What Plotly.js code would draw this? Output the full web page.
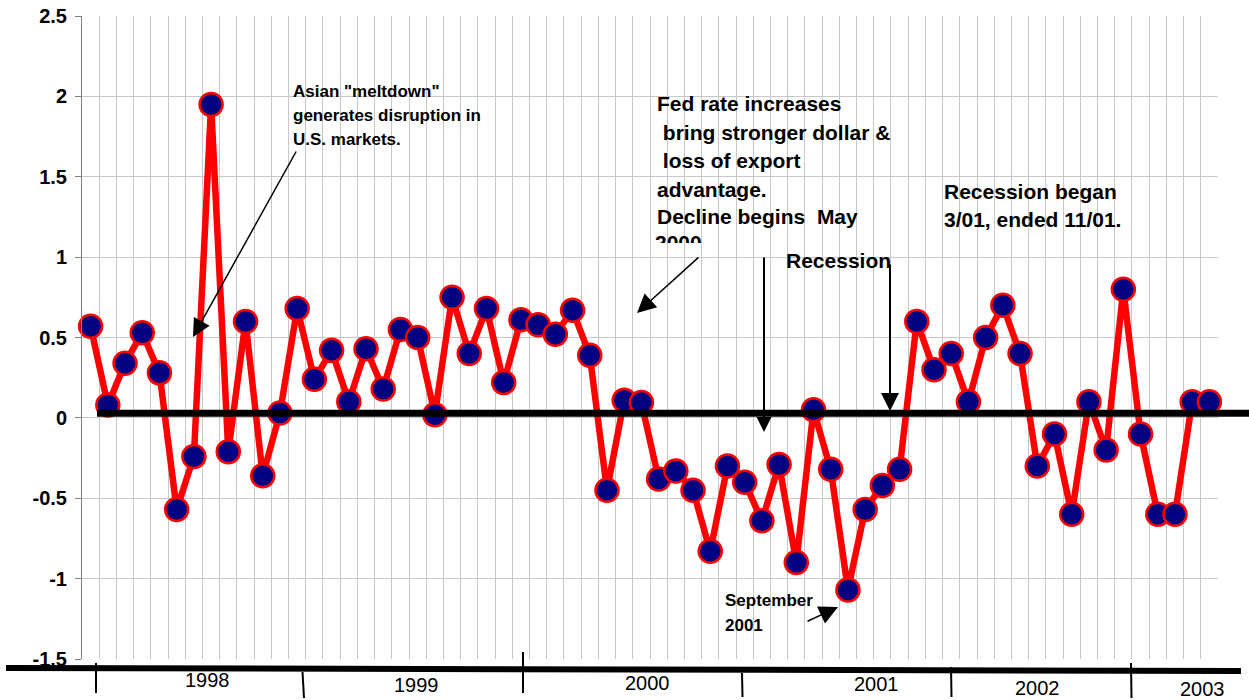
<!DOCTYPE html>
<html><head><meta charset="utf-8">
<script src="https://cdn.plot.ly/plotly-3.0.1.min.js"></script>
<style>html,body{margin:0;padding:0;background:#fff}#chart{width:1249px;height:700px}</style>
</head><body><div id="chart"></div><script>
// ---- data ----
const months = [
 '1998-01','1998-02','1998-03','1998-04','1998-05','1998-06','1998-07','1998-08','1998-09','1998-10','1998-11','1998-12',
 '1999-01','1999-02','1999-03','1999-04','1999-05','1999-06','1999-07','1999-08','1999-09','1999-10','1999-11','1999-12',
 '2000-01','2000-02','2000-03','2000-04','2000-05','2000-06','2000-07','2000-08','2000-09','2000-10','2000-11','2000-12',
 '2001-01','2001-02','2001-03','2001-04','2001-05','2001-06','2001-07','2001-08','2001-09','2001-10','2001-11','2001-12',
 '2002-01','2002-02','2002-03','2002-04','2002-05','2002-06','2002-07','2002-08','2002-09','2002-10','2002-11','2002-12',
 '2003-01','2003-02','2003-03','2003-04','2003-05','2003-06'];
const values = [
 0.57, 0.08, 0.34, 0.53, 0.28, -0.57, -0.24, 1.95, -0.21, 0.60, -0.36, 0.03,
 0.68, 0.24, 0.42, 0.10, 0.43, 0.18, 0.55, 0.50, 0.02, 0.75, 0.40, 0.68,
 0.22, 0.61, 0.58, 0.52, 0.67, 0.39, -0.45, 0.11, 0.095, -0.38, -0.33, -0.45,
 -0.83, -0.30, -0.40, -0.64, -0.29, -0.90, 0.05, -0.32, -1.07, -0.57, -0.42, -0.32,
 0.60, 0.30, 0.40, 0.10, 0.50, 0.70, 0.40, -0.30, -0.10, -0.60, 0.10, -0.20,
 0.80, -0.10, -0.60, -0.60, 0.10, 0.10];
const yTickVals = [2.5, 2, 1.5, 1, 0.5, 0, -0.5, -1, -1.5];
const yTickText = ['2.5', '2', '1.5', '1', '0.5', '0', '-0.5', '-1', '-1.5'];
const yearLabels = ['1998', '1999', '2000', '2001', '2002', '2003'];
const asianLines = ['Asian "meltdown"', 'generates disruption in', 'U.S. markets.'];
const fedLines = ['Fed rate increases', '\u00a0bring stronger dollar &', '\u00a0loss of export', 'advantage.', 'Decline begins \u00a0May'];
const fedLastLine = '2000';
const recessionLabel = 'Recession';
const recessionNote = ['Recession began', '3/01, ended 11/01.'];
const septLines = ['September', '2001'];

// ---- layout helpers (pixel -> paper) ----
const W = 1249, H = 700, L = 82, R = 1218, T = 16, B = 659;
const px = x => (x - L) / (R - L);
const py = y => (B - y) / (B - T);
const FONT = 'Arial, "Liberation Sans", Helvetica, sans-serif';

const annotations = [];
function textLines(lines, left, centers, size, bold, anchor) {
  lines.forEach((t, i) => annotations.push({
    xref: 'paper', yref: 'paper', x: px(left), y: py(centers[i]),
    xanchor: anchor || 'left', yanchor: 'middle', showarrow: false,
    text: t, font: {family: FONT, size: size, color: '#000', weight: bold ? 'bold' : 'normal'}
  }));
}
textLines(asianLines, 291, [91.7, 115.7, 139.3], 17, true);
textLines(fedLines, 655, [103.3, 132.3, 161, 189.3, 216.7], 21, true);
textLines([recessionLabel], 893, [260.7], 21, true, 'right');
textLines(recessionNote, 942, [191.7, 219.3], 21, true);
textLines(septLines, 723, [600, 625], 17, true);

const yearPos = [[207, 680], [416, 685], [647, 683], [876, 684], [1037, 688], [1202, 689]];
yearLabels.forEach((t, i) => annotations.push({
  xref: 'paper', yref: 'paper', x: px(yearPos[i][0]), y: py(yearPos[i][1]),
  xanchor: 'center', yanchor: 'middle', showarrow: false, text: t,
  font: {family: FONT, size: 20, color: '#000'}
}));

function arrow(tip, tail, w, size) {
  annotations.push({
    xref: 'paper', yref: 'paper', x: px(tip[0]), y: py(tip[1]),
    axref: 'pixel', ayref: 'pixel', ax: tail[0] - tip[0], ay: tail[1] - tip[1],
    text: '', showarrow: true, arrowhead: 2, arrowwidth: w, arrowsize: size,
    arrowcolor: '#000', standoff: 0, startstandoff: 0
  });
}
arrow([193, 337], [297, 150], 1.5, 2.4);
arrow([637, 313], [700, 256], 1.5, 2.5);
arrow([838, 607], [806, 622], 1.5, 2.5);
arrow([764, 432], [764, 256], 2, 1.5);
arrow([890, 411], [890, 263], 2, 1.8);

const line = (x0, y0, x1, y1, w) => ({
  type: 'line', xref: 'paper', yref: 'paper', x0: px(x0), y0: py(y0), x1: px(x1), y1: py(y1),
  line: {color: '#000', width: w}, layer: 'above'
});
const shapes = [
  line(97, 413.3, 1249, 413.3, 7),
  line(6, 668, 1241, 671, 6),
  line(96, 663, 96, 693, 2),
  line(302.5, 672, 304, 698, 2),
  line(523, 652, 523, 693, 2),
  line(742, 673, 742.5, 697, 2),
  line(951, 667, 951.5, 697, 2),
  line(1131, 663, 1131.5, 698, 2)
];

const traces = [
  {
    type: 'scatter', mode: 'lines+markers', x: months, y: values,
    line: {color: '#ff0000', width: 6.5},
    marker: {color: '#000080', size: 23, line: {color: '#ff0000', width: 2.5}},
    cliponaxis: false, hoverinfo: 'skip'
  },
  {
    // last (clipped) line of the Fed note, clipped by a sub-plot whose bottom edge sits at y=243px
    type: 'scatter', mode: 'text', xaxis: 'x2', yaxis: 'y2',
    x: [655], y: [244.5], text: [fedLastLine], textposition: 'middle right',
    textfont: {family: FONT, size: 21, color: '#000', weight: 'bold'},
    cliponaxis: true, hoverinfo: 'skip'
  }
];

const layout = {
  width: W, height: H,
  margin: {l: L, r: W - R, t: T, b: H - B, pad: 0},
  paper_bgcolor: '#fff', plot_bgcolor: 'rgba(0,0,0,0)',
  showlegend: false,
  xaxis: {
    type: 'category', range: [-0.5, months.length - 0.5], tickson: 'boundaries',
    showgrid: true, gridcolor: '#c8c8c8', gridwidth: 1, showline: false, zeroline: false,
    showticklabels: false, ticks: '', fixedrange: true
  },
  yaxis: {
    range: [-1.5, 2.5], tickvals: yTickVals, ticktext: yTickText,
    showgrid: true, gridcolor: '#c8c8c8', gridwidth: 1, zeroline: false,
    showline: true, linecolor: '#808080', linewidth: 1,
    ticks: 'outside', ticklen: 6, tickcolor: '#808080', ticklabelstandoff: 4,
    tickfont: {family: FONT, size: 20, color: '#000', weight: 'bold'}, fixedrange: true
  },
  xaxis2: {domain: [0, 1], range: [L, R], anchor: 'y2', visible: false, fixedrange: true},
  yaxis2: {domain: [py(243), 1], range: [243, T], anchor: 'x2', visible: false, fixedrange: true},
  annotations: annotations,
  shapes: shapes
};

Plotly.newPlot('chart', traces, layout, {displayModeBar: false, staticPlot: true});
</script></body></html>
